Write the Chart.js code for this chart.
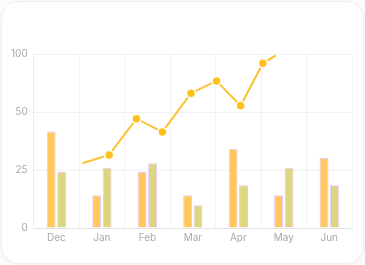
<!DOCTYPE html>
<html>
<head>
<meta charset="utf-8">
<script src="https://cdn.jsdelivr.net/npm/chart.js@4"></script>
<style>
  html, body { margin: 0; padding: 0; background: #fbfbfc; }
  .card {
    position: absolute; left: 1px; top: 1px; width: 361px; height: 261px;
    background: #fff; border: 1px solid #efeff2; border-radius: 18px;
    box-shadow: 0 1px 4px rgba(0,0,0,0.04);
  }
  .wrap { position: absolute; left: 0; top: 0; width: 365px; height: 265px; }
</style>
</head>
<body>
<div class="card"></div>
<div class="wrap"><canvas id="chart"></canvas></div>
<script>
const months = ['Dec', 'Jan', 'Feb', 'Mar', 'Apr', 'May', 'Jun'];
const seriesA = [41.6, 14.1, 24.1, 14.1, 34.2, 14.1, 30.2];
const seriesB = [24.1, 26.0, 27.9, 9.8, 18.4, 26.0, 18.4];
// trend line: x is position along the months (0 = Dec), y in axis units
const trendX = [0.57, 1.16, 1.76, 2.33, 2.96, 3.52, 4.05, 4.54, 4.82];
const trendY = [27.9, 31.5, 47.1, 41.4, 58.1, 63.4, 52.7, 71.0, 74.3];
const yTickLabels = ['0', '25', '50', '100'];

const ctx = document.getElementById('chart').getContext('2d');
new Chart(ctx, {
  type: 'bar',
  data: {
    labels: months,
    datasets: [
      {
        type: 'line',
        data: trendX.map((x, i) => ({ x: x, y: trendY[i] })),
        xAxisID: 'x2',
        borderColor: '#fcc22e',
        borderWidth: 2,
        pointBackgroundColor: '#fdc01c',
        pointBorderColor: '#ffffff',
        pointBorderWidth: 1.5,
        pointRadius: trendX.map((x, i) => (i === 0 || i === trendX.length - 1) ? 0 : 4.5),
        tension: 0
      },
      {
        data: seriesA,
        backgroundColor: '#ffc75c',
        borderColor: '#e6c8f5',
        borderWidth: 1,
        barPercentage: 0.85,
        categoryPercentage: 0.92
      },
      {
        data: seriesB,
        backgroundColor: '#dcd67e',
        borderColor: '#e6c8f5',
        borderWidth: 1,
        barPercentage: 0.85,
        categoryPercentage: 0.92
      }
    ]
  },
  options: {
    responsive: true,
    maintainAspectRatio: false,
    animation: false,
    layout: { padding: { left: 5, top: 54, right: 13, bottom: 17 } },
    plugins: { legend: { display: false }, tooltip: { enabled: false } },
    scales: {
      x: {
        grid: { color: '#f2f2f4', drawTicks: false },
        border: { color: '#e4e4e8' },
        ticks: { color: '#a9a9ae', font: { family: 'Inter', size: 10 }, padding: 4 }
      },
      x2: {
        type: 'linear',
        display: false,
        offset: false,
        min: -0.5,
        max: 6.5
      },
      y: {
        min: 0,
        max: 75,
        grid: { color: '#f0f0f2', drawTicks: false },
        border: { color: '#ececef' },
        ticks: {
          stepSize: 25,
          color: '#a9a9ae',
          font: { family: 'Inter', size: 10 },
          padding: 6,
          callback: (value, index) => yTickLabels[index]
        }
      }
    }
  }
});
</script>
</body>
</html>
